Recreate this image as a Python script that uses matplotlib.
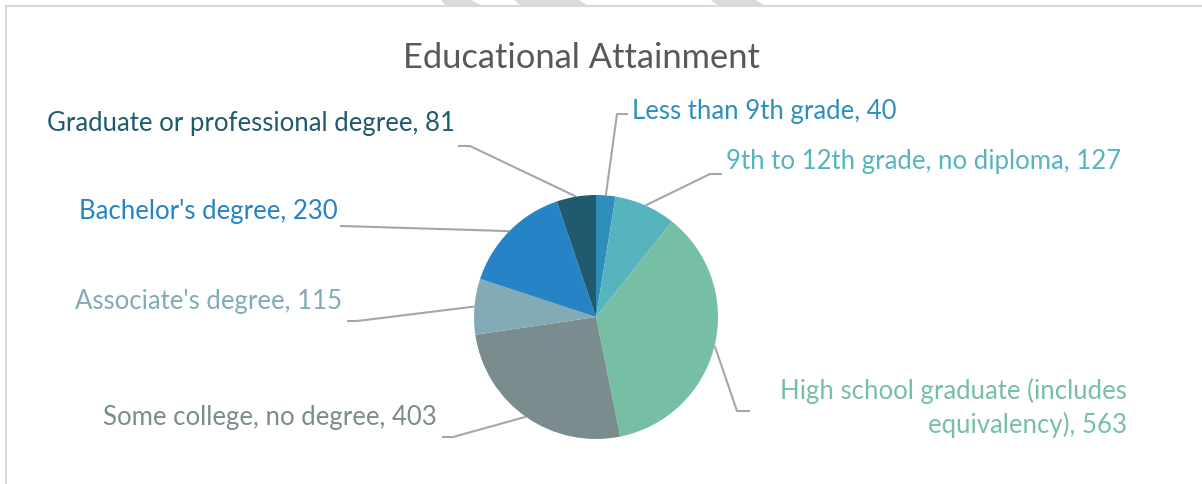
import matplotlib.pyplot as plt
from matplotlib.patches import Polygon
import numpy as np

plt.rcParams['font.family'] = ['Lato', 'DejaVu Sans']

# data
categories = ["Less than 9th grade", "9th to 12th grade, no diploma",
              "High school graduate (includes\nequivalency)", "Some college, no degree",
              "Associate's degree", "Bachelor's degree", "Graduate or professional degree"]
values = [40, 127, 563, 403, 115, 230, 81]
colors = ["#2E8FBD", "#56B4BF", "#76BFA5", "#7A8C8E", "#82ABB6", "#2683C6", "#1F5A6E"]

W, H = 1202, 485
def py(y):
    # pixel row (from top) -> data y (from bottom)
    return H - y

fig = plt.figure(figsize=(W / 100, H / 100), dpi=100)
ax = fig.add_axes([0, 0, 1, 1])

# frame + watermark stripes
ax.plot([6, W], [py(7), py(7)], color="#D9D9D9", lw=1.5)
ax.plot([6, 6], [py(7), 0], color="#D9D9D9", lw=1.5)
for (a, b, c, d) in [(440, 470, 480, 445), (513, 577, 587, 520), (710, 753, 765, 717)]:
    ax.add_patch(Polygon([(a, py(0)), (b, py(0)), (c, py(6)), (d, py(6))],
                         closed=True, color="#DADADA", lw=0))

cx, cy, r = 596, 318, 122
wedges, _ = ax.pie(values, colors=colors, startangle=90, counterclock=False,
                   center=(cx, py(cy)), radius=r, frame=True,
                   wedgeprops=dict(linewidth=0))
ax.set_xlim(0, W)
ax.set_ylim(0, H)
ax.set_aspect('equal')
ax.axis('off')

ax.text(581, py(58), "Educational Attainment", ha='center', va='center',
        fontsize=24.8, color="#595959")

# label layout: (text x, text y, ha, elbow, end)
layout = [
    (632, 111, 'left', (617, 115), (628, 115)),
    (726, 161, 'left', (710, 175), (722, 175)),
    (1127, 408, 'right', (737, 412), (750, 412)),
    (437, 418, 'right', (453, 438), (442, 438)),
    (342, 302, 'right', (357, 322), (347, 322)),
    (338, 212, 'right', (342, 227), (340, 227)),
    (455, 124, 'right', (470, 147), (458, 147)),
]

for w, cat, val, col, (tx, ty, ha, elbow, end) in zip(wedges, categories, values, colors, layout):
    mid = np.deg2rad((w.theta1 + w.theta2) / 2)
    ax0 = cx + r * np.cos(mid)
    ay0 = py(cy) + r * np.sin(mid)
    ax.plot([ax0, elbow[0], end[0]], [ay0, py(elbow[1]), py(end[1])],
            color="#A6A6A6", lw=1.5, solid_capstyle='butt', zorder=0)
    ax.text(tx, py(ty), f"{cat}, {val}", ha=ha, va='center', fontsize=18.5,
            color=col, multialignment='right', linespacing=1.38)

fig.savefig("out.png", dpi=100)
